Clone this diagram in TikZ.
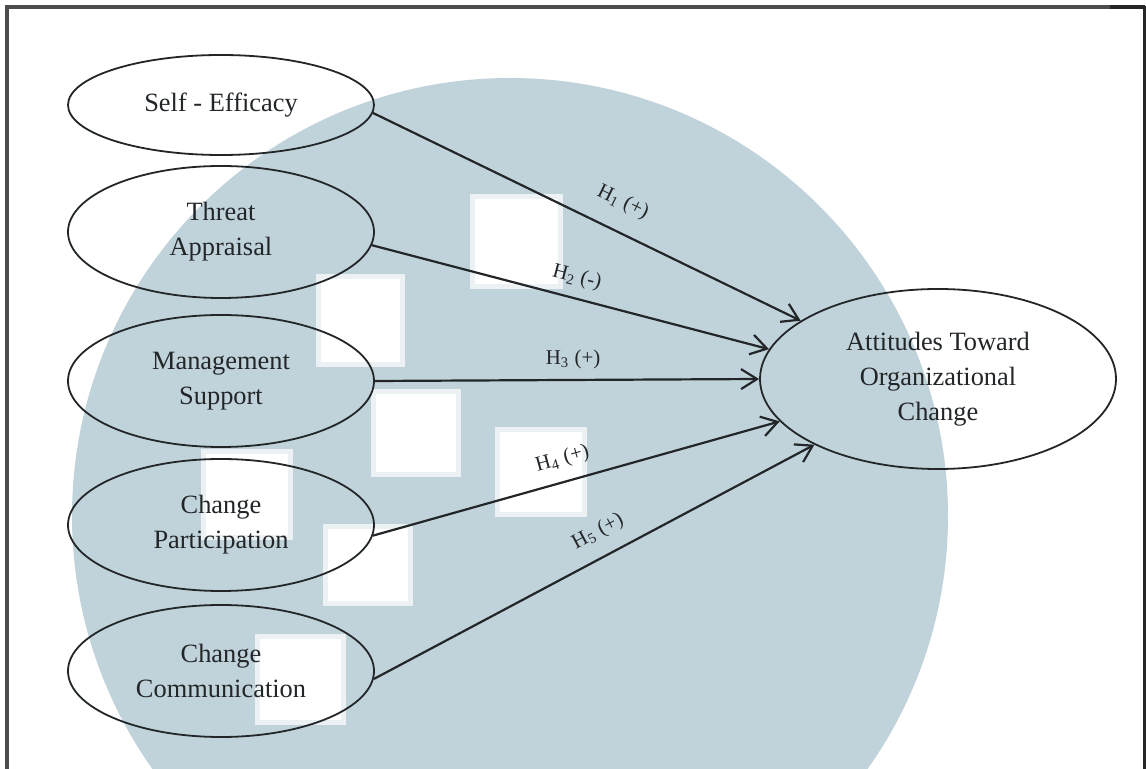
\documentclass[tikz,border=0pt]{standalone}
\usepackage{fontspec}
\setmainfont{Liberation Serif}
\usepackage{tikz}
\usetikzlibrary{shapes.geometric,arrows.meta}
\definecolor{wmblue}{RGB}{193,211,218}
\definecolor{ink}{RGB}{34,38,41}
\tikzset{
         construct/.style=
          {
           ellipse,draw=ink,line width=0.9pt,inner sep=0pt,
           minimum width=153pt,minimum height=66pt,align=center,text=ink,
           font=\fontsize{13.2}{17.5}\selectfont
          },
         hyp/.style={draw=ink,line width=1.1pt,-{Straight Barb[length=8pt,width=10pt,line width=1.1pt]}},
         hyplabel/.style={sloped,inner sep=0pt,text=ink,font=\fontsize{10.5}{12}\selectfont},
         hole/.style={fill=white,draw=wmblue!30,line width=2.5pt}
        }

\begin{document}
\begin{tikzpicture}[x=0.5pt,y=-0.5pt]
\useasboundingbox (0,0) rectangle (1146,769);
\begin{scope}
\clip (0,0) rectangle (1146,769);
\fill[wmblue] (510,516) circle (219pt); % watermark disc
\end{scope}
\filldraw[hole] (472,197) rectangle (560,287); % watermark squares
\filldraw[hole] (318,277) rectangle (402,365);
\filldraw[hole] (373,392) rectangle (458,475);
\filldraw[hole] (497,430) rectangle (584,515);
\filldraw[hole] (325,527) rectangle (410,604);
\filldraw[hole] (257,637) rectangle (343,722);
\filldraw[hole] (203,452) rectangle (290,538);
\draw[gray!60!black,line width=2pt](7,769)--(7,7)--(1110,7); % frame
\draw[black!85,line width=2pt](1110,7)--(1145,7)(1145,6)--(1145,769); % frame
\node[construct,minimum height=50pt] (se) at (221,105) {Self - Efficacy}; % Self-Efficacy
\node[construct] (ta) at (221,232) {Threat\\Appraisal}; % Threat Appraisal
\node[construct] (ms) at (221,381) {Management\\Support}; % Management Support
\node[construct] (cp) at (221,525) {Change\\Participation}; % Change Participation
\node[construct] (cc) at (221,671) {Change\\Communication}; % Change Communication
\node[construct,minimum width=178pt,minimum height=90pt] (att) at (938,379) {Attitudes Toward\\Organizational\\Change}; % Attitudes
\draw[hyp](se.-3)--node[hyplabel,pos=0.555,above=9pt]{H\textsubscript{1} (+)}(att.157.7); % H1
\draw[hyp](ta.-5.6)--node[hyplabel,pos=0.503,above=5pt]{H\textsubscript{2} (-)}(att.170.4); % H2
\draw[hyp](ms.east)--node[hyplabel,pos=0.516,above=5pt]{H\textsubscript{3} (+)}(att.west); % H3
\draw[hyp](cp.-4.5)--node[hyplabel,pos=0.481,above=6pt]{H\textsubscript{4} (+)}(att.195); % H4
\draw[hyp](cc.-3.3)--node[hyplabel,pos=0.535,above=7pt]{H\textsubscript{5} (+)}(att.208.5); % H5
\end{tikzpicture}
\end{document}
